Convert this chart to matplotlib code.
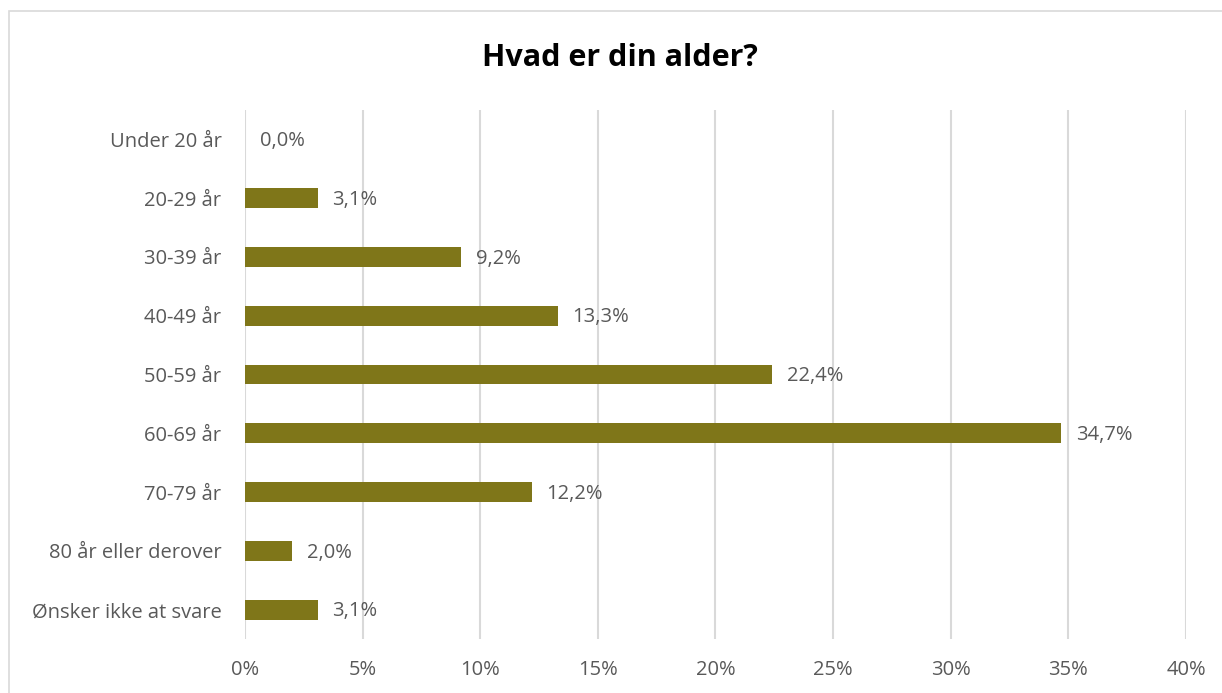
import matplotlib
matplotlib.use("Agg")
import matplotlib.pyplot as plt
from matplotlib.patches import Rectangle

# Données
categories = ["Under 20 år", "20-29 år", "30-39 år", "40-49 år", "50-59 år",
              "60-69 år", "70-79 år", "80 år eller derover", "Ønsker ikke at svare"]
values = [0.0, 3.1, 9.2, 13.3, 22.4, 34.7, 12.2, 2.0, 3.1]
x_ticks = [0, 5, 10, 15, 20, 25, 30, 35, 40]
title = "Hvad er din alder?"

bar_color = "#7f7619"
text_color = "#595959"
grid_color = "#d9d9d9"

plt.rcParams["font.family"] = ["Open Sans", "DejaVu Sans"]

fig = plt.figure(figsize=(12.22, 6.93), dpi=100)
ax = fig.add_axes([245 / 1222, 1 - 639 / 693, (1186 - 245) / 1222, (639 - 110) / 693])

# cadre autour du graphique
fig.patches.append(Rectangle((9 / 1222, -0.1), 1.2, 1 - 11 / 693 + 0.1,
                             transform=fig.transFigure, fill=False,
                             edgecolor="#d9d9d9", linewidth=1.2, zorder=0))

y_pos = list(range(len(categories)))
ax.barh(y_pos, values, height=0.34, color=bar_color, zorder=3)

for y, v in zip(y_pos, values):
    ax.text(v + 0.62, y + 0.03, f"{v:.1f}%".replace(".", ","), va="center", ha="left",
            fontsize=14.5, color=text_color)

ax.set_xlim(0, 40)
ax.set_ylim(len(categories) - 0.5, -0.5)
ax.set_xticks(x_ticks)
ax.set_xticklabels([f"{t}%" for t in x_ticks], fontsize=14.5, color=text_color)
ax.set_yticks(y_pos)
ax.set_yticklabels(categories, fontsize=14.5, color=text_color)
ax.tick_params(length=0)
ax.tick_params(axis="x", pad=15)
ax.tick_params(axis="y", pad=17)
ax.grid(axis="x", color=grid_color, linewidth=1.5, zorder=0)
for s in ax.spines.values():
    s.set_visible(False)

fig.text(0.507, 1 - 58 / 693, title, ha="center", va="center",
         fontsize=22, fontweight="bold", color="black")

fig.savefig("out.png", dpi=100)
